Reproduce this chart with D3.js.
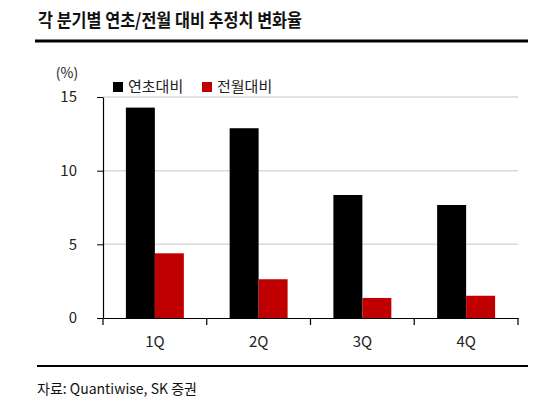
<!DOCTYPE html>
<html>
<head>
<meta charset="utf-8">
<script src="https://cdn.jsdelivr.net/npm/d3@7"></script>
<style>
  html, body { margin: 0; padding: 0; background: #fff; }
  svg { display: block; }
  text { font-family: "Noto Sans CJK KR", "Noto Sans", sans-serif; }
</style>
</head>
<body>
<svg id="chart" width="550" height="419"></svg>
<script>
const categories = ["1Q", "2Q", "3Q", "4Q"];
const seriesNames = ["연초대비", "전월대비"];
const ytdValues = [14.28, 12.88, 8.35, 7.67];
const momValues = [4.39, 2.63, 1.36, 1.51];
const yTicks = [0, 5, 10, 15];
const colors = ["#000000", "#c00000"];

const svg = d3.select("#chart");
const plot = { left: 103, right: 518, top: 97, bottom: 318 };

const x = d3.scaleBand().domain(categories).range([plot.left, plot.right]).padding(0);
const inner = d3.scaleBand().domain(seriesNames).range([0, x.bandwidth()]).paddingInner(0).paddingOuter(0.79);
const y = d3.scaleLinear().domain([0, 15]).range([plot.bottom, plot.top]);

// Title
svg.append("text").attr("x", 38).attr("y", 27)
  .attr("font-size", 18).attr("font-weight", "bold").attr("fill", "#111")
  .attr("textLength", 264).attr("lengthAdjust", "spacingAndGlyphs")
  .text("각 분기별 연초/전월 대비 추정치 변화율");
svg.append("line").attr("x1", 35).attr("x2", 528).attr("y1", 41).attr("y2", 41)
  .attr("stroke", "#000").attr("stroke-width", 3);

// Gridlines
svg.append("g").selectAll("line").data(yTicks.filter(d => d > 0)).join("line")
  .attr("x1", plot.left).attr("x2", plot.right)
  .attr("y1", d => y(d)).attr("y2", d => y(d))
  .attr("stroke", "#d9d9d9").attr("stroke-width", 1.5);

// Bars
const data = categories.map((c, i) => ({ cat: c, vals: [ytdValues[i], momValues[i]] }));
const groups = svg.append("g").selectAll("g").data(data).join("g")
  .attr("transform", d => `translate(${x(d.cat)},0)`);
groups.selectAll("rect").data(d => d.vals.map((v, j) => ({ name: seriesNames[j], v, j }))).join("rect")
  .attr("x", d => inner(d.name)).attr("width", inner.bandwidth())
  .attr("y", d => y(d.v)).attr("height", d => y(0) - y(d.v))
  .attr("fill", d => colors[d.j]);

// Y axis
const yAxis = svg.append("g").attr("transform", `translate(${plot.left},0)`)
  .call(d3.axisLeft(y).tickValues(yTicks).tickSize(6).tickSizeOuter(0).tickPadding(20));
yAxis.select(".domain").attr("stroke", "#000").attr("stroke-width", 1.2);
yAxis.selectAll(".tick line").attr("stroke", "#000");
yAxis.selectAll(".tick text").attr("font-size", 15).attr("fill", "#222")
  .attr("font-family", "\"Noto Sans CJK KR\", sans-serif");

// X axis
const xAxis = svg.append("g").attr("transform", `translate(0,${plot.bottom})`)
  .call(d3.axisBottom(x).tickSize(0).tickPadding(18));
xAxis.select(".domain").attr("stroke", "#000").attr("stroke-width", 1.2);
xAxis.selectAll(".tick text").attr("font-size", 15).attr("fill", "#222")
  .attr("font-family", "\"Noto Sans CJK KR\", sans-serif");
// boundary ticks between categories
const bounds = categories.map(c => x(c)).concat([x(categories[categories.length - 1]) + x.bandwidth()]);
svg.append("g").selectAll("line").data(bounds).join("line")
  .attr("x1", d => d).attr("x2", d => d)
  .attr("y1", plot.bottom).attr("y2", plot.bottom + 7)
  .attr("stroke", "#000").attr("stroke-width", 1.2);

// Unit label
svg.append("text").attr("x", 67).attr("y", 78).attr("text-anchor", "middle")
  .attr("font-size", 14).attr("fill", "#222").text("(%)");

// Legend
const legendX = [113, 202];
const legend = svg.append("g").selectAll("g").data(seriesNames).join("g")
  .attr("transform", (d, i) => `translate(${legendX[i]},82)`);
legend.append("rect").attr("width", 10).attr("height", 10).attr("fill", (d, i) => colors[i]);
legend.append("text").attr("x", 15).attr("y", 10).attr("font-size", 15).attr("fill", "#222").text(d => d);

// Footer
svg.append("line").attr("x1", 37).attr("x2", 528).attr("y1", 366).attr("y2", 366)
  .attr("stroke", "#000").attr("stroke-width", 2);
svg.append("text").attr("x", 37).attr("y", 394).attr("font-size", 14).attr("fill", "#111")
  .text("자료: Quantiwise, SK 증권");
</script>
</body>
</html>
